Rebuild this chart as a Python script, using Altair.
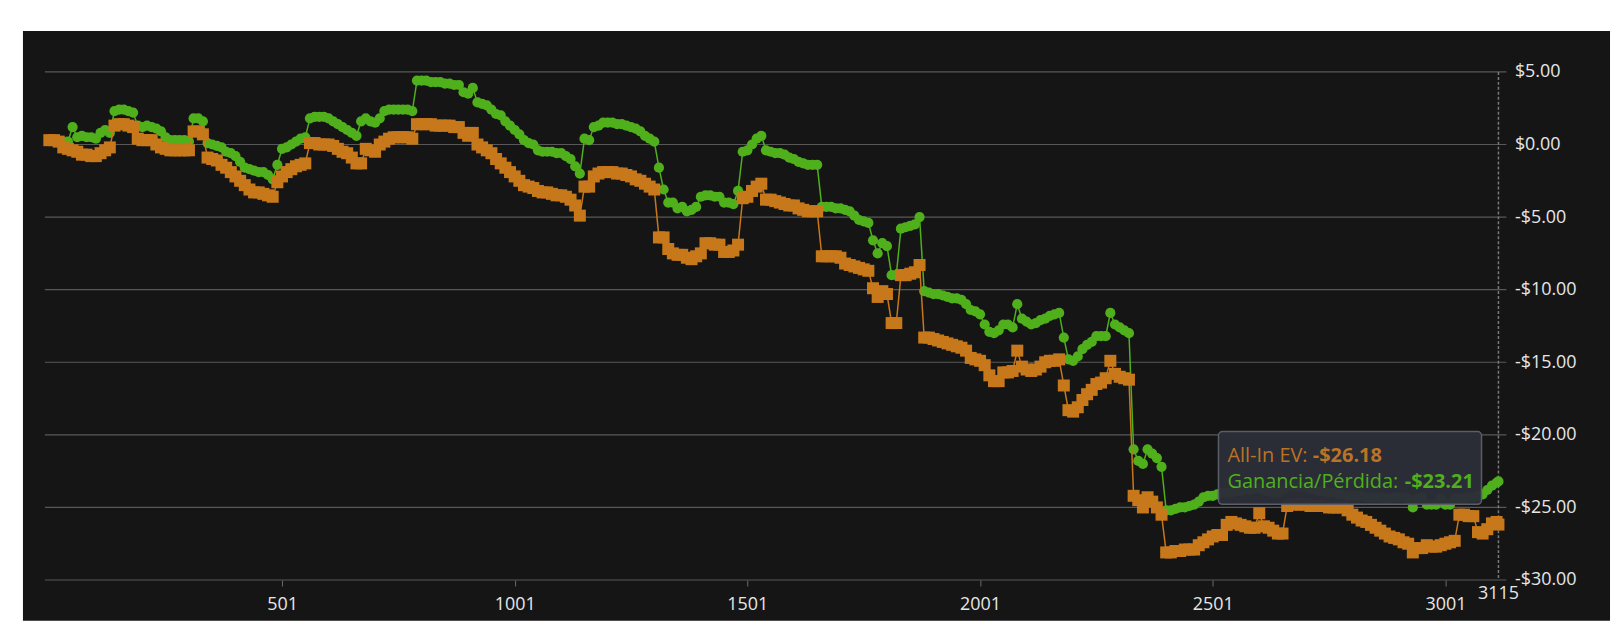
import altair as alt
import pandas as pd

# ---------------- data ----------------
HANDS = list(range(1, 3112, 10)) + [3115]

# All-In EV (orange)
EV = [
    0.3, 0.3, 0.2, -0.2, -0.3, -0.4, -0.5, -0.7, -0.7, -0.8,
    -0.8, -0.6, -0.4, -0.2, 1.3, 1.4, 1.4, 1.3, 1.2, 0.4,
    0.3, 0.3, 0.3, 0.0, -0.2, -0.3, -0.4, -0.4, -0.4, -0.4,
    -0.4, 0.9, 0.9, 0.7, -0.9, -1.0, -1.1, -1.4, -1.6, -1.9,
    -2.2, -2.5, -2.8, -3.1, -3.3, -3.3, -3.4, -3.5, -3.6, -2.6,
    -2.2, -1.9, -1.7, -1.5, -1.4, -1.3, 0.1, 0.1, 0.0, 0.0,
    0.0, -0.1, -0.3, -0.5, -0.6, -0.9, -1.3, -1.3, -0.3, -0.4,
    -0.5, 0.0, 0.2, 0.4, 0.5, 0.5, 0.5, 0.5, 0.4, 1.4,
    1.4, 1.4, 1.4, 1.3, 1.3, 1.3, 1.3, 1.2, 1.2, 0.8,
    0.6, 0.8, 0.0, -0.2, -0.4, -0.6, -1.0, -1.3, -1.6, -1.9,
    -2.2, -2.5, -2.8, -2.9, -3.0, -3.2, -3.3, -3.3, -3.4, -3.5,
    -3.5, -3.6, -3.8, -4.2, -4.9, -2.9, -2.9, -2.2, -2.0, -1.9,
    -1.9, -1.9, -2.0, -2.0, -2.1, -2.2, -2.4, -2.5, -2.7, -2.9,
    -3.1, -6.4, -6.4, -7.2, -7.5, -7.6, -7.6, -7.8, -7.9, -7.7,
    -7.5, -6.8, -6.8, -6.9, -6.9, -7.4, -7.4, -7.3, -6.9, -3.7,
    -3.6, -3.2, -2.9, -2.7, -3.8, -3.8, -3.9, -4.0, -4.1, -4.2,
    -4.2, -4.4, -4.5, -4.6, -4.6, -4.6, -7.7, -7.7, -7.7, -7.7,
    -7.8, -8.2, -8.3, -8.4, -8.5, -8.6, -8.7, -9.9, -10.5, -10.1,
    -10.3, -12.3, -12.3, -9.0, -9.0, -8.9, -8.8, -8.3, -13.3, -13.3,
    -13.4, -13.5, -13.6, -13.7, -13.8, -13.9, -14.0, -14.2, -14.7, -14.8,
    -14.9, -15.2, -15.9, -16.3, -16.3, -15.7, -15.7, -15.6, -14.2, -15.3,
    -15.5, -15.6, -15.5, -15.3, -15.0, -14.9, -14.9, -14.8, -16.6, -18.3,
    -18.4, -18.1, -17.6, -17.2, -16.9, -16.5, -16.4, -16.1, -14.9, -15.8,
    -16.0, -16.1, -16.2, -24.2, -24.5, -25.0, -24.3, -24.6, -25.0, -25.5,
    -28.1, -28.1, -28.0, -28.0, -27.9, -27.9, -27.9, -27.6, -27.4, -27.2,
    -27.0, -26.9, -26.9, -26.2, -26.0, -26.1, -26.2, -26.3, -26.4, -26.4,
    -25.4, -26.3, -26.4, -26.6, -26.8, -26.8, -24.9, -24.8, -24.8, -24.8,
    -24.8, -24.9, -24.9, -24.9, -24.9, -25.0, -25.0, -25.0, -25.0, -25.2,
    -25.5, -25.7, -25.9, -26.0, -26.2, -26.4, -26.6, -26.8, -27.0, -27.1,
    -27.2, -27.4, -27.5, -28.1, -27.8, -27.8, -27.6, -27.7, -27.7, -27.6,
    -27.5, -27.4, -27.3, -25.5, -25.5, -25.6, -25.6, -26.7, -26.8, -26.5,
    -26.1, -26.0, -26.18,
]

# Ganancia/Pérdida (green)
NET = [
    0.3, 0.3, 0.2, 0.2, 0.2, 1.2, 0.5, 0.6, 0.5, 0.5,
    0.4, 0.8, 1.0, 0.8, 2.3, 2.4, 2.4, 2.3, 2.2, 1.3,
    1.2, 1.3, 1.2, 1.1, 0.9, 0.5, 0.3, 0.3, 0.3, 0.3,
    0.2, 1.8, 1.8, 1.6, 0.1, 0.0, -0.1, -0.2, -0.5, -0.6,
    -0.8, -1.2, -1.6, -1.7, -1.8, -1.9, -1.9, -2.1, -2.4, -1.4,
    -0.3, -0.2, 0.0, 0.2, 0.4, 0.5, 1.8, 1.9, 1.9, 1.9,
    1.8, 1.6, 1.4, 1.2, 1.0, 0.8, 0.6, 1.6, 1.8, 1.6,
    1.5, 1.8, 2.3, 2.4, 2.4, 2.4, 2.4, 2.4, 2.3, 4.4,
    4.4, 4.4, 4.3, 4.3, 4.3, 4.2, 4.2, 4.1, 4.1, 3.6,
    3.5, 3.9, 2.9, 2.8, 2.7, 2.4, 2.1, 2.0, 1.6, 1.3,
    1.0, 0.7, 0.3, 0.1, 0.0, -0.4, -0.5, -0.5, -0.5, -0.6,
    -0.6, -0.8, -1.0, -1.5, -2.0, 0.4, 0.3, 1.2, 1.3, 1.5,
    1.5, 1.5, 1.4, 1.4, 1.3, 1.2, 1.1, 0.9, 0.6, 0.4,
    0.2, -1.6, -3.1, -4.0, -4.0, -4.4, -4.3, -4.6, -4.5, -4.3,
    -3.6, -3.5, -3.5, -3.6, -3.6, -4.0, -4.0, -4.1, -3.2, -0.5,
    -0.4, 0.0, 0.4, 0.6, -0.4, -0.5, -0.6, -0.6, -0.7, -0.9,
    -1.0, -1.2, -1.3, -1.4, -1.4, -1.4, -4.3, -4.3, -4.3, -4.4,
    -4.4, -4.5, -4.6, -4.9, -5.2, -5.3, -5.4, -6.6, -7.5, -6.8,
    -7.0, -9.0, -9.0, -5.8, -5.7, -5.6, -5.5, -5.0, -10.1, -10.2,
    -10.3, -10.3, -10.4, -10.5, -10.6, -10.6, -10.7, -11.0, -11.4, -11.5,
    -11.7, -12.4, -12.9, -13.0, -12.8, -12.4, -12.4, -12.6, -11.0, -12.0,
    -12.2, -12.4, -12.3, -12.1, -12.0, -11.8, -11.7, -11.6, -13.3, -14.8,
    -14.9, -14.6, -14.1, -13.8, -13.6, -13.2, -13.2, -13.2, -11.6, -12.4,
    -12.6, -12.8, -13.0, -21.0, -21.8, -22.0, -21.0, -21.3, -21.6, -22.2,
    -25.2, -25.2, -25.1, -25.0, -25.0, -24.9, -24.8, -24.6, -24.3, -24.2,
    -24.2, -24.1, -24.0, -24.0, -24.0, -23.9, -23.9, -23.8, -23.8, -23.7,
    -23.7, -23.8, -23.9, -24.0, -24.0, -23.8, -23.6, -23.5, -23.5, -23.6,
    -23.6, -23.7, -23.8, -23.9, -23.9, -24.0, -24.0, -24.1, -24.1, -24.2,
    -24.2, -24.2, -24.2, -24.3, -24.3, -24.3, -24.3, -24.4, -24.4, -24.3,
    -24.3, -24.3, -24.4, -25.0, -24.4, -24.3, -24.8, -24.8, -24.8, -24.4,
    -24.8, -24.8, -24.4, -24.4, -24.4, -24.3, -24.3, -24.2, -24.1, -23.8,
    -23.5, -23.3, -23.21,
]

Y_TICKS = [5, 0, -5, -10, -15, -20, -25, -30]
X_TICKS = [501, 1001, 1501, 2001, 2501, 3001]
TIP_LABELS = ["All-In EV: ", "Ganancia/Pérdida: "]
TIP_VALUES = ["-$26.18", "-$23.21"]

# ---------------- style ----------------
W, H = 1467, 510
BG = "#151515"
ORANGE = "#c7781a"
GREEN = "#4fb01c"
LABEL = "#e6e6e6"
FONT = "Open Sans"

df = pd.DataFrame({"hand": HANDS, "ev": EV, "net": NET})
df_last = df.tail(1).copy()
df_last["lbl"] = df_last["hand"].astype(str)
df_grid = pd.DataFrame({"v": Y_TICKS})
df_one = pd.DataFrame({"a": [0]})

x_scale = alt.Scale(domain=[-8.6, 3132.1], nice=False, zero=False)
y_scale = alt.Scale(domain=[-30, 5], nice=False, zero=False)

x_axis = alt.Axis(values=X_TICKS, format="d", title=None, grid=False, domain=False,
                  ticks=True, tickSize=6, tickColor="#6a6a6a", tickWidth=1,
                  labelColor=LABEL, labelFont=FONT, labelFontSize=18,
                  labelPadding=10, zindex=1)
y_axis = alt.Axis(values=Y_TICKS, orient="right", title=None, grid=False, domain=False,
                  ticks=False, tickSize=0, labelColor=LABEL, labelFont=FONT,
                  labelFontSize=18, labelPadding=8, labelAlign="left",
                  labelBaseline="middle",
                  labelExpr="(datum.value < 0 ? '-' : '') + '$' + format(abs(datum.value), '.2f')",
                  zindex=1)

X = alt.X("hand:Q", scale=x_scale, axis=x_axis)

bg = alt.Chart(df_one).mark_rect(fill=BG).encode(
    x=alt.value(-22), x2=alt.value(1571), y=alt.value(-41), y2=alt.value(551)
)

grid = alt.Chart(df_grid).mark_rule(color="#585858", strokeWidth=1.2).encode(
    y=alt.Y("v:Q", scale=y_scale, axis=y_axis), x=alt.value(0), x2=alt.value(W)
)

cross = alt.Chart(df_last).mark_rule(color="#7a7a7a", strokeWidth=1.5, strokeDash=[3, 2]).encode(
    x=X, y=alt.value(0), y2=alt.value(H)
)

g_line = alt.Chart(df).mark_line(color=GREEN, strokeWidth=1.5).encode(
    x=X, y=alt.Y("net:Q", scale=y_scale, axis=y_axis)
)
g_pts = alt.Chart(df).mark_point(shape="circle", filled=True, size=105, color=GREEN, opacity=1).encode(
    x=X, y=alt.Y("net:Q", scale=y_scale, axis=y_axis)
)
o_line = alt.Chart(df).mark_line(color=ORANGE, strokeWidth=1.5).encode(
    x=X, y=alt.Y("ev:Q", scale=y_scale, axis=y_axis)
)
o_pts = alt.Chart(df).mark_point(shape="square", filled=True, size=145, color=ORANGE, opacity=1).encode(
    x=X, y=alt.Y("ev:Q", scale=y_scale, axis=y_axis)
)

tip_box = alt.Chart(df_one).mark_rect(
    fill="#2b2e37", stroke="#5d616b", strokeWidth=1.5, cornerRadius=4, opacity=0.97
).encode(x=alt.value(1178), x2=alt.value(1442), y=alt.value(361), y2=alt.value(434))

tip_layers = []
tip_pos = [(386, 1272.7, "#bb7326"), (412, 1365, "#4fb01c")]
for i, (ty, vx, col) in enumerate(tip_pos):
    d = pd.DataFrame({"label": [TIP_LABELS[i]], "value": [TIP_VALUES[i]]})
    tip_layers.append(
        alt.Chart(d).mark_text(align="left", baseline="middle", font=FONT, fontSize=20,
                               color=col).encode(
            x=alt.value(1187), y=alt.value(ty), text="label:N")
    )
    tip_layers.append(
        alt.Chart(d).mark_text(align="left", baseline="middle", font=FONT, fontSize=20,
                               fontWeight="bold", color=col).encode(
            x=alt.value(vx), y=alt.value(ty), text="value:N")
    )

end_lbl = alt.Chart(df_last).mark_text(align="center", baseline="middle", font=FONT,
                                        fontSize=18, color=LABEL).encode(
    x=X, y=alt.value(524), text="lbl:N"
)

chart = alt.layer(bg, grid, cross, g_line, g_pts, o_line, o_pts, tip_box, *tip_layers, end_lbl).properties(
    width=W, height=H,
    autosize=alt.AutoSizeParams(type="none"),
    padding={"left": 37, "top": 63, "right": 110, "bottom": 45},
    background="white",
).configure_view(stroke=None)

chart.save("out.html", embed_options={"renderer": "svg", "actions": False})
